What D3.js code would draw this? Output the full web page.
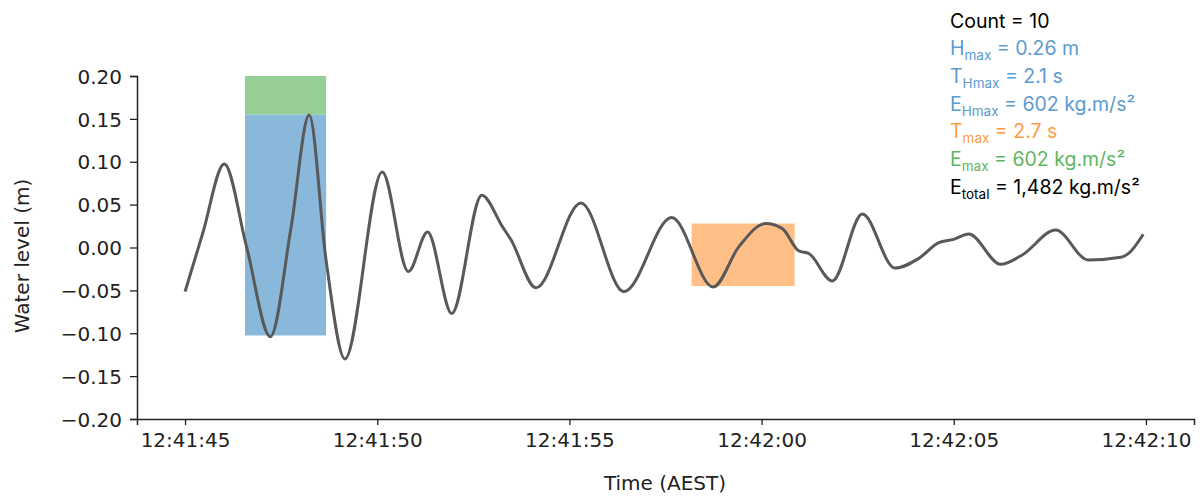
<!DOCTYPE html>
<html>
<head>
<meta charset="utf-8">
<script src="https://cdn.jsdelivr.net/npm/d3@7"></script>
<style>
  html, body { margin: 0; padding: 0; background: #fff; }
  svg { display: block; }
</style>
</head>
<body>
<svg id="chart" width="1203" height="498"></svg>
<script>
// ---- data ----
const times = [0, 0.46, 1.02, 1.6, 2.22, 2.76, 3.23, 3.67, 4.16, 5.13, 5.81, 6.31, 6.94, 7.72, 8.26, 8.48, 9.13, 10.30, 11.42, 12.66, 13.74, 14.41, 15.11, 15.54, 15.97, 16.23, 16.84, 17.62, 18.47, 19.09, 19.61, 20.0, 20.39, 21.22, 21.78, 22.65, 23.5, 24.35, 24.55, 24.93];
const levels = [-0.0515, 0.0166, 0.0974, 0.001, -0.104, 0.024, 0.1545, -0.015, -0.130, 0.088, -0.028, 0.018, -0.077, 0.061, 0.024, 0.009, -0.047, 0.052, -0.0515, 0.035, -0.046, 0.001, 0.028, 0.022, -0.004, -0.007, -0.039, 0.039, -0.024, -0.0127, 0.0056, 0.0095, 0.0157, -0.0196, -0.0087, 0.0204, -0.0146, -0.0114, -0.0068, 0.0155];
const startTime = new Date(2024, 0, 1, 12, 41, 45);
const xTickSeconds = [0, 5, 10, 15, 20, 25];
const yTicks = [-0.20, -0.15, -0.10, -0.05, 0.00, 0.05, 0.10, 0.15, 0.20];
// highlighted windows: [t0, t1, v0, v1]
const hmaxBox = [1.56, 3.67, -0.1026, 0.155];
const emaxBox = [1.56, 3.67, 0.155, 0.20];
const tmaxBox = [13.18, 15.86, -0.045, 0.028];
const statLines = [
  { main: "Count = 10", sub: "", rest: "", color: "#000000" },
  { main: "H", sub: "max", rest: " = 0.26 m", color: "#5b9bd0" },
  { main: "T", sub: "Hmax", rest: " = 2.1 s", color: "#5b9bd0" },
  { main: "E", sub: "Hmax", rest: " = 602 kg.m/s²", color: "#5b9bd0" },
  { main: "T", sub: "max", rest: " = 2.7 s", color: "#ff9a44" },
  { main: "E", sub: "max", rest: " = 602 kg.m/s²", color: "#5fb65f" },
  { main: "E", sub: "total", rest: " = 1,482 kg.m/s²", color: "#000000" }
];

// ---- chart ----
const svg = d3.select("#chart");
const tickFont = "DejaVu Sans, sans-serif";
const t2d = s => new Date(startTime.getTime() + s * 1000);

const x = d3.scaleTime()
  .domain([t2d(-1.25), t2d(26.25)])
  .range([137, 1194]);
const y = d3.scaleLinear().domain([-0.2, 0.2]).range([419, 76]);

// boxes
function box(b, fill) {
  svg.append("rect")
    .attr("x", x(t2d(b[0])))
    .attr("width", x(t2d(b[1])) - x(t2d(b[0])))
    .attr("y", y(b[3]))
    .attr("height", y(b[2]) - y(b[3]))
    .attr("fill", fill);
}
box(emaxBox, "#95cf95");
box(hmaxBox, "#8ab8da");
box(tmaxBox, "#ffbf86");

// line
const pts = times.map((t, i) => [t2d(t), levels[i]]);
svg.append("path")
  .datum(pts)
  .attr("fill", "none")
  .attr("stroke", "#595959")
  .attr("stroke-width", 3)
  .attr("stroke-linejoin", "round")
  .attr("d", d3.line().x(d => x(d[0])).y(d => y(d[1])).curve(d3.curveMonotoneX));

// axes
const fmt = d3.timeFormat("%H:%M:%S");
const xAxis = svg.append("g")
  .attr("transform", "translate(0,419)")
  .call(d3.axisBottom(x)
    .tickValues(xTickSeconds.map(t2d))
    .tickFormat(fmt)
    .tickSizeOuter(0)
    .tickSize(6)
    .tickPadding(8));
const yAxis = svg.append("g")
  .attr("transform", "translate(137,0)")
  .call(d3.axisLeft(y)
    .tickValues(yTicks)
    .tickFormat(d => d3.format(".2f")(d).replace("-", "\u2212"))
    .tickSizeOuter(0)
    .tickSize(7)
    .tickPadding(8));

[xAxis, yAxis].forEach(g => {
  g.select(".domain").attr("stroke", "#222").attr("stroke-width", 1.5);
  g.selectAll(".tick line").attr("stroke", "#222").attr("stroke-width", 1.3);
  g.selectAll(".tick text").attr("fill", "#222").style("font-family", tickFont).style("font-size", "20px");
});
yAxis.selectAll(".tick text").attr("dy", "0.36em");

// axis titles
svg.append("text")
  .attr("x", 665).attr("y", 490)
  .attr("text-anchor", "middle")
  .style("font-family", tickFont).style("font-size", "20px").attr("fill", "#222")
  .text("Time (AEST)");
svg.append("text")
  .attr("transform", "translate(29,256) rotate(-90)")
  .attr("text-anchor", "middle")
  .style("font-family", tickFont).style("font-size", "20px").attr("fill", "#222")
  .text("Water level (m)");

// stats annotation
const ann = svg.append("g");
statLines.forEach((l, i) => {
  const tx = ann.append("text")
    .attr("x", 950).attr("y", 27.5 + i * 27.7)
    .attr("fill", l.color)
    .style("font-family", "Inter, 'Open Sans', sans-serif")
    .style("font-size", "19.5px");
  tx.append("tspan").text(l.main);
  if (l.sub) {
    tx.append("tspan").attr("dy", 5).style("font-size", "13.5px").text(l.sub);
    tx.append("tspan").attr("dy", -5).text(l.rest);
  }
});
</script>
</body>
</html>
